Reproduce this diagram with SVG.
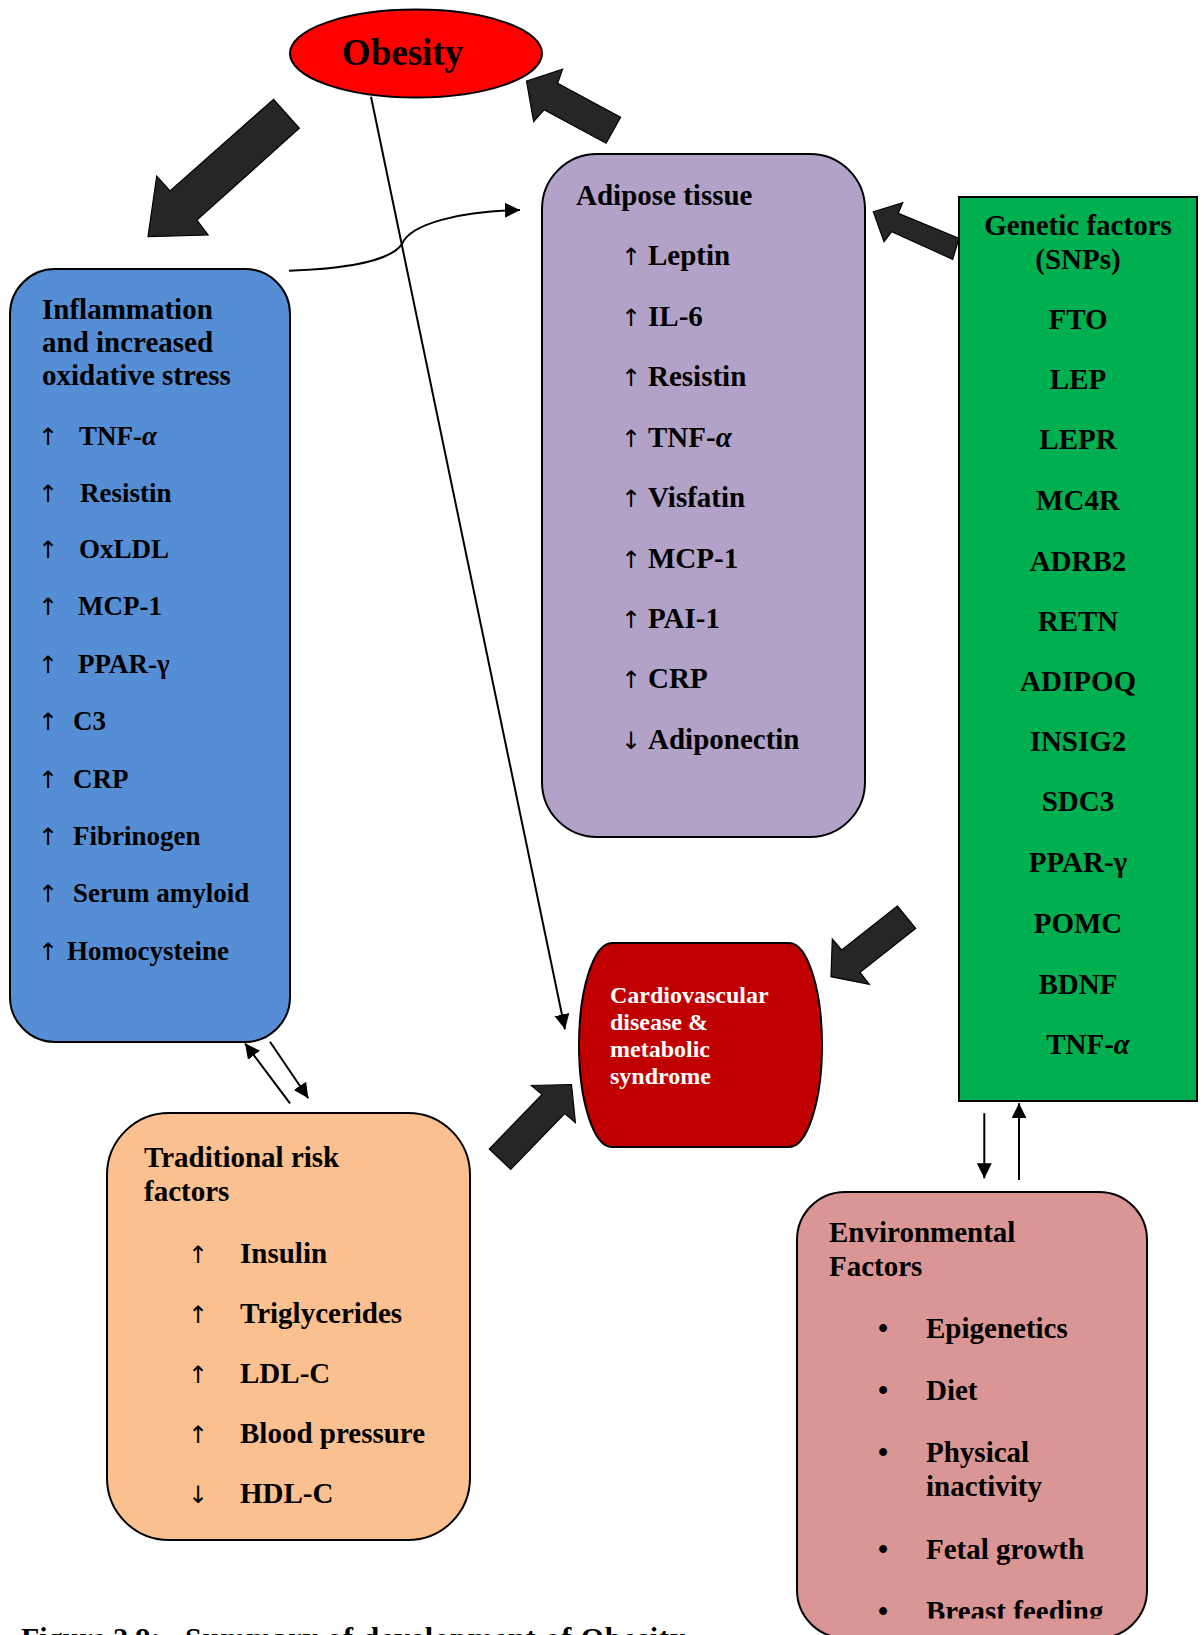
<svg xmlns="http://www.w3.org/2000/svg" width="1204" height="1635" viewBox="0 0 1204 1635">
<style>
.t{font-family:"Liberation Serif","Times New Roman",serif;font-weight:bold;font-size:29px;fill:#000}
.s{font-size:27px}
.c{text-anchor:middle}
.ar{font-family:"DejaVu Sans",sans-serif;font-size:24px;text-anchor:middle;fill:#000}
.w{fill:#fff;font-size:24px}
.box{stroke:#000;stroke-width:2}
.blk{fill:#262626;stroke:#000;stroke-width:1.2;stroke-linejoin:miter}
.ln{fill:none;stroke:#000;stroke-width:2}
.i{font-style:italic}
</style>
<defs>
<marker id="ah" markerUnits="userSpaceOnUse" markerWidth="16" markerHeight="16" refX="15" refY="7.5" orient="auto">
<path d="M0,0 L15,7.5 L0,15 Z" fill="#000"/>
</marker>
<clipPath id="envclip"><rect x="790" y="1180" width="380" height="438.5"/></clipPath>
</defs>
<rect width="1204" height="1635" fill="#fff"/>

<g id="obesity">
<ellipse cx="416" cy="53.5" rx="126" ry="44" fill="#FF0000" class="box"/>
<text x="402.5" y="65" class="t c" style="font-size:37px">Obesity</text>
</g>

<g id="inflammation">
<rect x="10" y="269" width="280" height="773" rx="45" ry="45" fill="#558ED5" class="box"/>
<text class="t" x="42" y="319">Inflammation</text>
<text class="t" x="42" y="352">and increased</text>
<text class="t" x="42" y="385">oxidative stress</text>
<text class="ar" x="48" y="445">↑</text><text class="t s" x="79" y="445">TNF-<tspan class="i">α</tspan></text>
<text class="ar" x="48" y="502">↑</text><text class="t s" x="80" y="502">Resistin</text>
<text class="ar" x="48" y="558">↑</text><text class="t s" x="79" y="558">OxLDL</text>
<text class="ar" x="48" y="615">↑</text><text class="t s" x="78" y="615">MCP-1</text>
<text class="ar" x="48" y="673">↑</text><text class="t s" x="78" y="673">PPAR-γ</text>
<text class="ar" x="48" y="730">↑</text><text class="t s" x="73" y="730">C3</text>
<text class="ar" x="48" y="788">↑</text><text class="t s" x="73" y="788">CRP</text>
<text class="ar" x="48" y="845">↑</text><text class="t s" x="73" y="845">Fibrinogen</text>
<text class="ar" x="48" y="902">↑</text><text class="t s" x="73" y="902">Serum amyloid</text>
<text class="ar" x="48" y="960">↑</text><text class="t s" x="67" y="960">Homocysteine</text>
</g>

<g id="adipose">
<rect x="542" y="154" width="323" height="683" rx="55" ry="55" fill="#B3A2C7" class="box"/>
<text class="t" x="576" y="205">Adipose tissue</text>
<text class="ar" x="631" y="265">↑</text><text class="t" x="648" y="265">Leptin</text>
<text class="ar" x="631" y="326">↑</text><text class="t" x="648" y="326">IL-6</text>
<text class="ar" x="631" y="386">↑</text><text class="t" x="648" y="386">Resistin</text>
<text class="ar" x="631" y="447">↑</text><text class="t" x="648" y="447">TNF-<tspan class="i">α</tspan></text>
<text class="ar" x="631" y="507">↑</text><text class="t" x="648" y="507">Visfatin</text>
<text class="ar" x="631" y="568">↑</text><text class="t" x="648" y="568">MCP-1</text>
<text class="ar" x="631" y="628">↑</text><text class="t" x="648" y="628">PAI-1</text>
<text class="ar" x="631" y="688">↑</text><text class="t" x="648" y="688">CRP</text>
<text class="ar" x="631" y="749">↓</text><text class="t" x="648" y="749">Adiponectin</text>
</g>

<g id="genetic">
<rect x="959" y="197" width="238" height="904" fill="#00B050" class="box"/>
<text class="t c" x="1078" y="235">Genetic factors</text>
<text class="t c" x="1078" y="269">(SNPs)</text>
<text class="t c" x="1078" y="329">FTO</text>
<text class="t c" x="1078" y="389">LEP</text>
<text class="t c" x="1078" y="449">LEPR</text>
<text class="t c" x="1078" y="510">MC4R</text>
<text class="t c" x="1078" y="571">ADRB2</text>
<text class="t c" x="1078" y="631">RETN</text>
<text class="t c" x="1078" y="691">ADIPOQ</text>
<text class="t c" x="1078" y="751">INSIG2</text>
<text class="t c" x="1078" y="811">SDC3</text>
<text class="t c" x="1078" y="872">PPAR-γ</text>
<text class="t c" x="1078" y="933">POMC</text>
<text class="t c" x="1078" y="994">BDNF</text>
<text class="t c" x="1088" y="1054">TNF-<tspan class="i">α</tspan></text>
</g>

<g id="cardio">
<path d="M612,943 H789 A33,102 0 0 1 789,1147 H612 A33,102 0 0 1 612,943 Z" fill="#C00000" class="box"/>
<text class="t w" x="610" y="1003">Cardiovascular</text>
<text class="t w" x="610" y="1030">disease &amp;</text>
<text class="t w" x="610" y="1057">metabolic</text>
<text class="t w" x="610" y="1084">syndrome</text>
</g>

<g id="traditional">
<rect x="107" y="1113" width="363" height="427" rx="62" ry="62" fill="#FAC090" class="box"/>
<text class="t" x="144" y="1167">Traditional risk</text>
<text class="t" x="144" y="1201">factors</text>
<text class="ar" x="198" y="1263">↑</text><text class="t" x="240" y="1263">Insulin</text>
<text class="ar" x="198" y="1323">↑</text><text class="t" x="240" y="1323">Triglycerides</text>
<text class="ar" x="198" y="1383">↑</text><text class="t" x="240" y="1383">LDL-C</text>
<text class="ar" x="198" y="1443">↑</text><text class="t" x="240" y="1443">Blood pressure</text>
<text class="ar" x="198" y="1503">↓</text><text class="t" x="240" y="1503">HDL-C</text>
</g>

<g id="environmental">
<rect x="797" y="1192" width="350" height="446" rx="48" ry="48" fill="#D99694" class="box"/>
<text class="t" x="829" y="1242">Environmental</text>
<text class="t" x="829" y="1276">Factors</text>
<g clip-path="url(#envclip)">
<text class="t c" x="883" y="1338">•</text><text class="t" x="926" y="1338">Epigenetics</text>
<text class="t c" x="883" y="1400">•</text><text class="t" x="926" y="1400">Diet</text>
<text class="t c" x="883" y="1462">•</text><text class="t" x="926" y="1462">Physical</text>
<text class="t" x="926" y="1496">inactivity</text>
<text class="t c" x="883" y="1559">•</text><text class="t" x="926" y="1559">Fetal growth</text>
<text class="t c" x="883" y="1621">•</text><text class="t" x="926" y="1621">Breast feeding</text>
</g>
</g>

<g id="connectors">
<polygon class="blk" points="273.6,99.3 299.3,128.3 196.9,220 208.1,235 148,236.7 156.7,176 170,191"/>
<polygon class="blk" points="526.5,81 562.6,69.3 557.6,83.3 620.6,117.3 606.1,143.3 544,109.8 533.6,121.7"/>
<polygon class="blk" points="873.3,211.7 902.7,202.7 898.3,213.3 959,238.3 952.7,259.3 891.7,231.7 884,241.7"/>
<polygon class="blk" points="897.3,906 915.7,928.3 860.1,972.3 869.3,984.3 831,976.7 832.3,939 841.7,950"/>
<polygon class="blk" points="489.3,1149 510.7,1169.3 564.7,1113.5 575.4,1122.5 571.5,1084.5 531.4,1085.5 542.1,1094.5"/>
<line class="ln" x1="371" y1="96.7" x2="565" y2="1029.3" marker-end="url(#ah)"/>
<path class="ln" d="M289,270.7 C340,269 390,262 402,244 C410,224 460,211 520,210" marker-end="url(#ah)"/>
<line class="ln" x1="290" y1="1103.3" x2="245" y2="1043.3" marker-end="url(#ah)"/>
<line class="ln" x1="270" y1="1041.7" x2="308.3" y2="1098.3" marker-end="url(#ah)"/>
<line class="ln" x1="984.3" y1="1113.3" x2="984.3" y2="1178.3" marker-end="url(#ah)"/>
<line class="ln" x1="1019" y1="1180" x2="1019" y2="1103.3" marker-end="url(#ah)"/>
</g>

<text class="t" x="21" y="1648" style="font-size:30px">Figure 2.9:<tspan x="185" textLength="500" lengthAdjust="spacing">Summary of development of Obesity</tspan></text>
</svg>
